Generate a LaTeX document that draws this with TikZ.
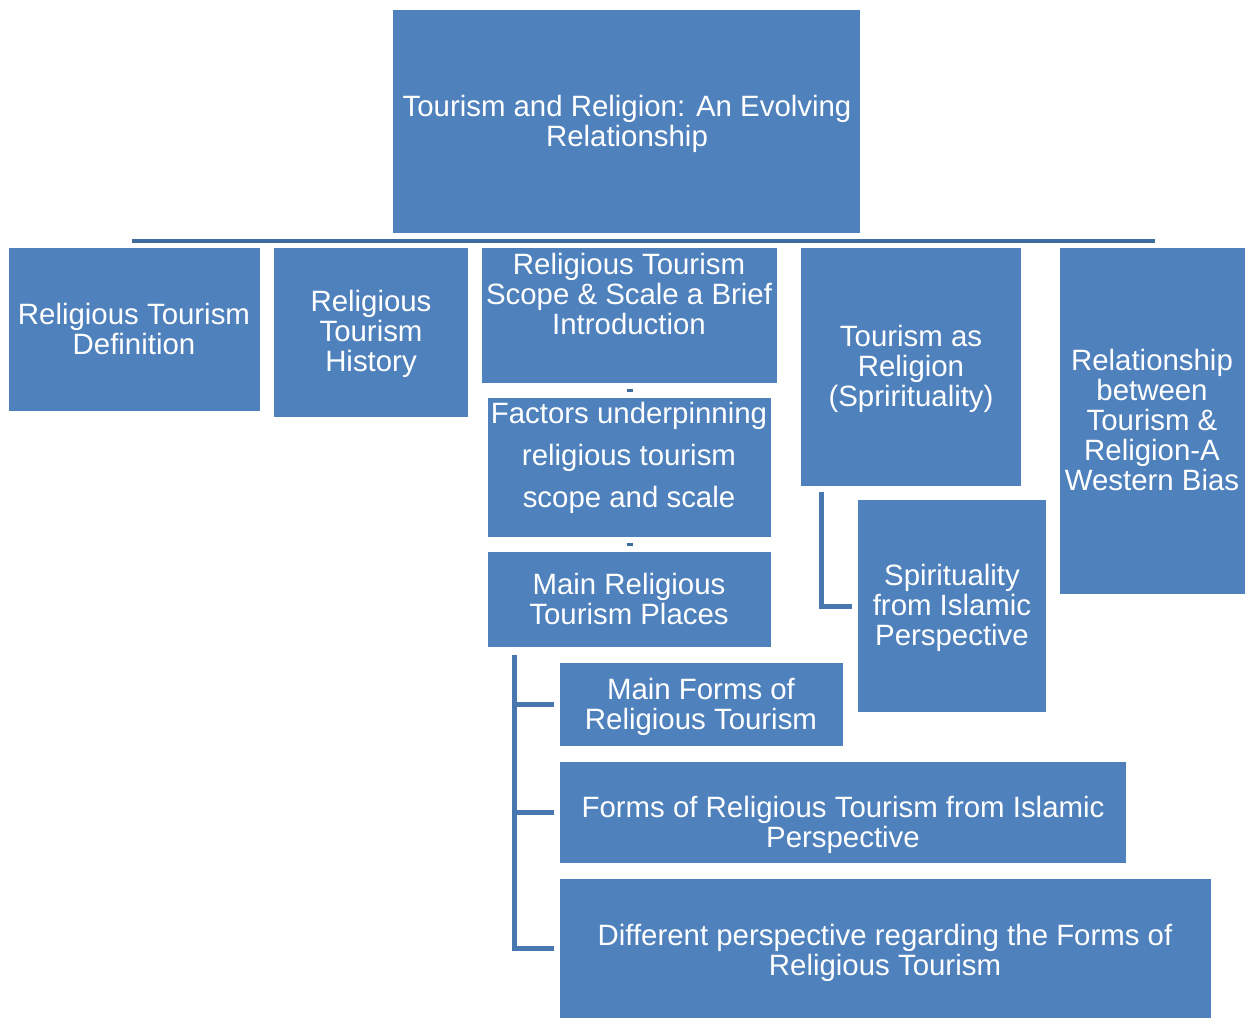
\documentclass[tikz,border=0pt]{standalone}
\usepackage{fontspec}
\setmainfont{Liberation Sans}
\usetikzlibrary{calc}
\definecolor{boxblue}{HTML}{4F81BD}
\definecolor{barblue}{HTML}{3F6C9F}
\definecolor{brkblue}{HTML}{4877B0}
\tikzset{
  box/.style={fill=boxblue, draw=none, inner sep=0pt, anchor=north west},
  txt/.style={text=white, align=center, inner sep=0pt, font=\fontsize{29.4}{30}\selectfont},
  bar/.style={draw=barblue, line width=4pt},
  brk/.style={draw=brkblue, line width=5pt},
  tickmark/.style={draw=barblue, line width=3pt}
}
\begin{document}
\begin{tikzpicture}[x=1pt,y=-1pt]
\useasboundingbox (0,0) rectangle (1254,1018);
% boxes
\node[box, minimum width=467pt, minimum height=223pt] (top) at (393,10) {};
\node[box, minimum width=251pt, minimum height=163pt] (b1) at (9,248) {};
\node[box, minimum width=194pt, minimum height=169pt] (b2) at (274,248) {};
\node[box, minimum width=295pt, minimum height=135pt] (b3) at (482,248) {};
\node[box, minimum width=283pt, minimum height=139pt] (b4) at (488,398) {};
\node[box, minimum width=283pt, minimum height=95pt] (b5) at (488,552) {};
\node[box, minimum width=220pt, minimum height=238pt] (b6) at (801,248) {};
\node[box, minimum width=188pt, minimum height=212pt] (b7) at (858,500) {};
\node[box, minimum width=185pt, minimum height=346pt] (b8) at (1060,248) {};
\node[box, minimum width=283pt, minimum height=83pt] (b9) at (560,663) {};
\node[box, minimum width=566pt, minimum height=101pt] (b10) at (560,762) {};
\node[box, minimum width=651pt, minimum height=139pt] (b11) at (560,879) {};
% texts
\node[txt] (ttop) at (627,124) {Tourism and Religion: An Evolving\\Relationship};
\node[txt] (t1) at (134,329) {Religious Tourism\\Definition};
\node[txt] (t2) at (371,334) {Religious\\Tourism\\History};
\node[txt] (t3) at (629,294) {Religious Tourism\\Scope \& Scale a Brief\\Introduction};
\node[txt, font=\fontsize{29.4}{42}\selectfont] (t4) at (629,458) {Factors underpinning\\religious tourism\\scope and scale};
\node[txt] (t5) at (629,599) {Main Religious\\Tourism Places};
\node[txt] (t6) at (911,369) {Tourism as\\Religion\\(Sprirituality)};
\node[txt] (t7) at (952,608) {Spirituality\\from Islamic\\Perspective};
\node[txt] (t8) at (1152,420) {Relationship\\between\\Tourism \&\\Religion-A\\Western Bias};
\node[txt] (t9) at (701,707) {Main Forms of\\Religious Tourism};
\node[txt] (t10) at (843,825) {Forms of Religious Tourism from Islamic\\Perspective};
\node[txt] (t11) at (885,953) {Different perspective regarding the Forms of\\Religious Tourism};
% horizontal bar under top box
\coordinate (barL) at (132,241);
\coordinate (barR) at (1155,241);
\draw[bar] (barL) -- (barR);
% small dashes between stacked boxes
\coordinate (d1) at ($(b3.south)!0.5!(b4.north)$);
\coordinate (d2) at ($(b4.south)!0.5!(b5.north)$);
\draw[tickmark] ([xshift=-3pt]d1) -- ([xshift=3pt]d1);
\draw[tickmark] ([xshift=-3pt]d2) -- ([xshift=3pt]d2);
% bracket from b6 to b7
\draw[brk] ([shift={(20,6)}]b6.south west) |- ([xshift=-6pt]b7.west);
% bracket from b5 to b9, b10, b11
\coordinate (sp) at ([shift={(26,8)}]b5.south west);
\draw[brk] (sp) |- ([xshift=-6pt]b11.west);
\draw[brk] (sp |- b9.west) -- ([xshift=-6pt]b9.west);
\draw[brk] (sp |- b10.west) -- ([xshift=-6pt]b10.west);
\end{tikzpicture}
\end{document}
